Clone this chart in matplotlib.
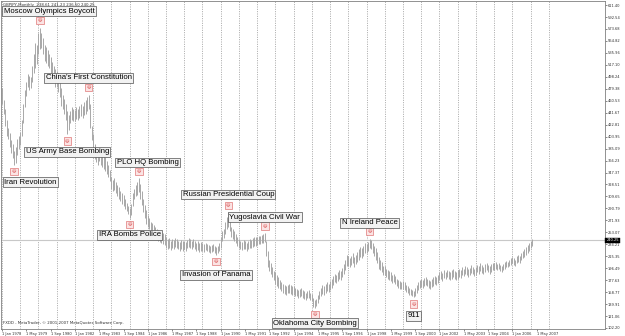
import matplotlib
matplotlib.use('Agg')
import matplotlib.pyplot as plt

# GBPJPY monthly bars, Jan 1978 .. Feb 2007 (one row per year)
highs = [
    480, 462, 447, 430, 418, 410, 398, 392, 382, 388, 400, 405,  # 1978
    412, 430, 455, 478, 490, 503, 500, 498, 515, 535, 552, 548,  # 1979
    568, 576, 568, 560, 548, 545, 540, 535, 530, 522, 515, 510,  # 1980
    508, 505, 490, 480, 470, 464, 455, 445, 438, 445, 450, 448,  # 1981
    446, 450, 448, 452, 455, 452, 458, 462, 466, 470, 455, 420,  # 1982
    408, 392, 385, 380, 384, 380, 378, 374, 372, 366, 360, 352,  # 1983
    340, 335, 338, 332, 328, 325, 318, 315, 312, 306, 300, 295,  # 1984
    292, 298, 315, 322, 328, 332, 338, 330, 318, 306, 296, 288,  # 1985
    280, 276, 270, 268, 264, 262, 258, 256, 255, 254, 252, 250,  # 1986
    245, 242, 244, 240, 243, 241, 244, 242, 240, 238, 241, 239,  # 1987
    240, 238, 241, 244, 242, 239, 243, 240, 237, 239, 236, 238,  # 1988
    236, 234, 237, 235, 233, 232, 233, 234, 232, 230, 231, 236,  # 1989
    245, 255, 258, 270, 278, 285, 275, 262, 258, 255, 250, 246,  # 1990
    242, 240, 238, 241, 239, 237, 240, 243, 241, 244, 246, 245,  # 1991
    246, 248, 247, 249, 250, 252, 240, 224, 210, 205, 198, 192,  # 1992
    190, 185, 182, 178, 175, 172, 170, 168, 170, 172, 170, 168,  # 1993
    168, 166, 164, 162, 163, 165, 162, 160, 158, 160, 162, 158,  # 1994
    156, 150, 146, 148, 155, 160, 165, 170, 168, 172, 174, 172,  # 1995
    176, 180, 184, 188, 186, 190, 194, 192, 197, 203, 210, 218,  # 1996
    215, 212, 216, 220, 214, 218, 222, 226, 230, 228, 232, 236,  # 1997
    234, 238, 243, 241, 236, 232, 228, 222, 214, 210, 206, 200,  # 1998
    200, 196, 194, 192, 190, 186, 188, 184, 180, 178, 176, 174,  # 1999
    176, 174, 170, 168, 166, 164, 162, 160, 165, 170, 174, 178,  # 2000
    180, 178, 181, 183, 180, 178, 176, 179, 182, 184, 183, 186,  # 2001
    190, 192, 189, 193, 191, 194, 192, 190, 193, 195, 192, 190,  # 2002
    193, 196, 194, 198, 196, 200, 198, 195, 197, 202, 199, 196,  # 2003
    198, 202, 200, 204, 201, 199, 203, 205, 202, 200, 203, 205,  # 2004
    204, 206, 203, 205, 202, 200, 203, 206, 208, 207, 210, 212,  # 2005
    214, 212, 210, 215, 218, 216, 220, 223, 226, 230, 233, 236,  # 2006
    240, 242,                                                    # 2007
]
lows = [
    455, 440, 420, 405, 400, 388, 378, 370, 360, 362, 375, 385,  # 1978
    390, 405, 425, 450, 468, 482, 478, 480, 490, 505, 512, 518,  # 1979
    535, 542, 543, 535, 523, 520, 515, 512, 505, 498, 492, 482,  # 1980
    482, 475, 466, 453, 448, 440, 430, 408, 415, 425, 430, 428,  # 1981
    428, 432, 430, 433, 436, 434, 438, 440, 445, 448, 418, 398,  # 1982
    382, 368, 364, 360, 365, 360, 356, 353, 350, 345, 340, 334,  # 1983
    322, 318, 320, 315, 310, 306, 302, 298, 295, 290, 286, 282,  # 1984
    276, 281, 295, 305, 310, 312, 316, 305, 296, 285, 275, 266,  # 1985
    262, 258, 253, 250, 248, 246, 243, 240, 238, 236, 235, 233,  # 1986
    228, 226, 229, 225, 228, 226, 230, 228, 226, 224, 227, 224,  # 1987
    226, 224, 228, 230, 229, 226, 230, 227, 224, 225, 222, 224,  # 1988
    224, 222, 225, 223, 222, 221, 222, 223, 221, 218, 221, 224,  # 1989
    228, 240, 244, 250, 258, 262, 255, 245, 242, 240, 236, 232,  # 1990
    228, 226, 225, 227, 226, 224, 227, 229, 228, 230, 232, 231,  # 1991
    233, 235, 234, 236, 237, 238, 215, 198, 192, 188, 182, 178,  # 1992
    172, 168, 166, 163, 160, 158, 156, 155, 157, 158, 156, 155,  # 1993
    155, 153, 152, 150, 151, 153, 150, 148, 147, 149, 150, 147,  # 1994
    144, 136, 134, 137, 142, 148, 152, 156, 155, 158, 160, 159,  # 1995
    162, 166, 170, 174, 173, 176, 179, 178, 182, 187, 194, 200,  # 1996
    200, 198, 202, 205, 199, 203, 207, 210, 214, 213, 216, 220,  # 1997
    220, 223, 228, 226, 220, 215, 210, 204, 196, 194, 190, 186,  # 1998
    186, 182, 180, 178, 176, 173, 174, 171, 168, 166, 164, 163,  # 1999
    164, 162, 159, 157, 155, 154, 152, 151, 153, 158, 162, 166,  # 2000
    167, 166, 168, 170, 168, 166, 164, 167, 169, 171, 170, 173,  # 2001
    178, 180, 177, 181, 179, 182, 180, 178, 180, 182, 179, 178,  # 2002
    180, 183, 181, 185, 184, 187, 186, 183, 185, 189, 187, 184,  # 2003
    186, 190, 188, 192, 189, 187, 190, 193, 190, 188, 191, 193,  # 2004
    194, 196, 193, 195, 192, 191, 194, 196, 198, 198, 200, 202,  # 2005
    204, 202, 200, 205, 207, 205, 209, 212, 214, 218, 220, 223,  # 2006
    228, 232,                                                    # 2007
]
last_close = 240.25
title_text = "GBPJPY,Monthly  238.61 241.23 236.50 240.25"
footer_text = "FXDD - MetaTrader, \u00a9 2001-2007 MetaQuotes Software Corp."

# event labels: month index (from Jan 1978), which side of the bar
event_names = ["Iran Revolution", "Moscow Olympics Boycott", "US Army Base Bombing",
               "China's First Constitution", "IRA Bombs Police", "PLO HQ Bombing",
               "Invasion of Panama", "Russian Presidential Coup", "Yugoslavia Civil War",
               "Oklahoma City Bombing", "N Ireland Peace", "911"]
event_months = [8, 25, 43, 57, 84, 90, 141, 149, 173, 206, 242, 271]
event_side = ["low", "high", "low", "high", "low", "high",
              "low", "high", "high", "low", "high", "low"]

# axis ticks
ytick_vals = [611.40, 592.54, 573.68, 554.82, 535.96, 517.10, 498.24, 479.38,
              460.53, 441.67, 422.81, 403.95, 385.09, 366.23, 347.37, 328.51,
              309.65, 290.79, 271.93, 253.07, 234.21, 215.35, 196.49, 177.63,
              158.77, 139.91, 121.06, 102.20]
xtick_labels = ["1 Jan 1978", "1 May 1979", "1 Sep 1980", "1 Jan 1982", "1 May 1983",
                "1 Sep 1984", "1 Jan 1986", "1 May 1987", "1 Sep 1988", "1 Jan 1990",
                "1 May 1991", "1 Sep 1992", "1 Jan 1994", "1 May 1995", "1 Sep 1996",
                "1 Jan 1998", "1 May 1999", "1 Sep 2000", "1 Jan 2002", "1 May 2003",
                "1 Sep 2004", "1 Jan 2006", "1 May 2007"]

# label offsets (points) relative to the marker
label_offsets = [(11.5, -7.6), (6.5, 6.8), (0, -7.9), (0, 7.2), (0, -7.2), (6.5, 6.5),
                 (0, -9.7), (0, 7.6), (0, 6.5), (0, -6.1), (0, 6.5), (0, -8.6)]

months = list(range(len(highs)))

fig = plt.figure(figsize=(6.25, 3.36), dpi=100)
ax = fig.add_axes([0.0016, 0.0208, 0.9664, 0.976])
ax.set_xlim(-0.66, 397)
ax.set_ylim(100.6, 617.7)

# yearly dotted grid
for g in range(0, 361, 12):
    ax.axvline(g, color='#9a9a9a', lw=0.6, ls=(0, (1.2, 1.6)), zorder=0)

ax.axhline(last_close, color='#c8c8c8', lw=0.8, zorder=1)
ax.vlines(months, lows, highs, color='#a8a8a8', lw=0.7, zorder=2)

for name, m, side, off in zip(event_names, event_months, event_side, label_offsets):
    if side == "high":
        base, dy = highs[m], 5.0
    else:
        base, dy = lows[m], -5.0
    ax.annotate('\u263a', xy=(m, base), xytext=(0, dy), textcoords='offset points',
                ha='center', va='center', fontsize=3.2, color='#d03030', zorder=5,
                bbox=dict(boxstyle='square,pad=0.35', fc='#fbe4e4', ec='#e07878', lw=0.5))
    ax.annotate(name, xy=(m, base), xytext=(off[0], dy + off[1]), textcoords='offset points',
                ha='center', va='center', fontsize=5.6, family='Liberation Sans',
                color='black', zorder=6,
                bbox=dict(boxstyle='square,pad=0.18', fc='#f2f2f2', ec='#505050', lw=0.5))

ax.yaxis.tick_right()
ax.set_yticks(ytick_vals)
ax.set_yticklabels(['%.2f' % v for v in ytick_vals])
ax.set_xticks(list(range(0, 16 * len(xtick_labels), 16)))
ax.set_xticklabels(xtick_labels, ha='left')
ax.tick_params(axis='both', labelsize=2.6, length=1.5, width=0.4, pad=0.6, colors='#303030')

for s in ax.spines.values():
    s.set_color('#808080')
    s.set_linewidth(0.6)

ax.annotate('%.2f' % last_close, xy=(1, last_close), xycoords=('axes fraction', 'data'),
            xytext=(1.0, 0), textcoords='offset points', ha='left', va='center',
            fontsize=2.6, color='white', annotation_clip=False,
            bbox=dict(boxstyle='square,pad=0.25', fc='black', ec='black', lw=0.3))

ax.text(0.003, 0.993, title_text, transform=ax.transAxes, fontsize=2.8,
        ha='left', va='top', color='#303030')
ax.text(0.003, 0.012, footer_text, transform=ax.transAxes, fontsize=2.8,
        ha='left', va='bottom', color='#303030')

fig.savefig('out.png', dpi=100)
